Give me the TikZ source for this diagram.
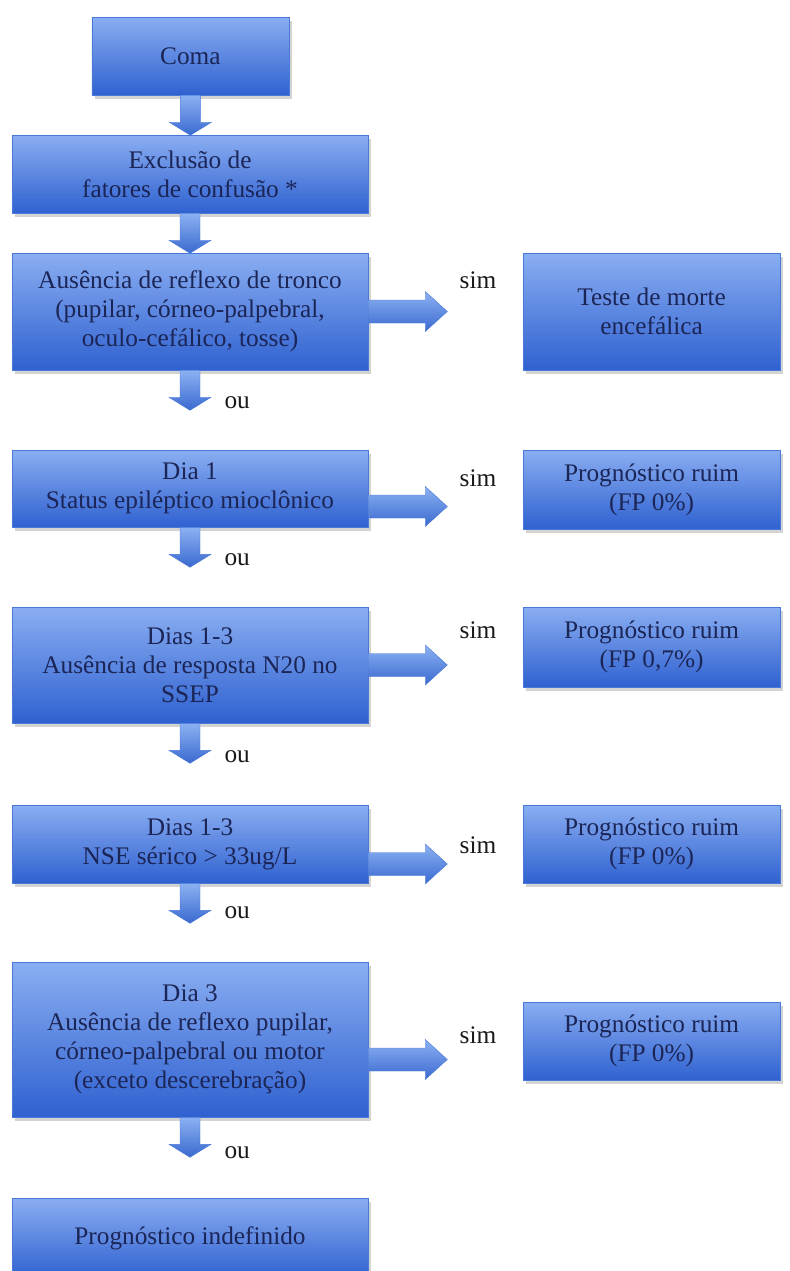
\documentclass[tikz,border=0pt]{standalone}
\usepackage{fontspec}
\setmainfont{Liberation Serif}
\newfontfamily\timesfont{Liberation Serif}
\usepackage{tikz}
\usetikzlibrary{calc,shadows}
\definecolor{boxtop}{HTML}{8AAEF2}
\definecolor{boxbot}{HTML}{2F61D0}
\definecolor{boxline}{HTML}{4A78D8}
\definecolor{navy}{HTML}{1B2556}
\definecolor{arrtop}{HTML}{8CB1F2}
\definecolor{arrbot}{HTML}{3A6AD0}

% block arrow pointing down, from a node anchor
\newcommand{\ouarrow}[1]{%
  \shade[top color=arrtop, bottom color=arrbot, draw=boxline, line width=0.3pt, shift={(#1)}]
    (-0.25,0) -- (-0.25,-0.675) -- (-0.525,-0.675) -- (0,-1) -- (0.525,-0.675) -- (0.25,-0.675) -- (0.25,0) -- cycle;}
% block arrow pointing right, from a node anchor shifted by #2
\newcommand{\simarrow}[2]{%
  \shade[top color=arrtop, bottom color=arrbot, draw=boxline, line width=0.3pt, shift={($(#1)+(0,#2)$)}]
    (0,0.2875) -- (1.425,0.2875) -- (1.425,0.5) -- (1.975,0) -- (1.425,-0.5) -- (1.425,-0.2875) -- (0,-0.2875) -- cycle;}

\begin{document}
\begin{tikzpicture}[every node/.style={font=\timesfont\fontsize{18}{20.5}\selectfont},
  box/.style={rectangle, top color=boxtop, bottom color=boxbot, draw=boxline, line width=0.4pt,
    text=navy, align=center, minimum width=8.9cm, inner sep=2pt,
    drop shadow={shadow xshift=0.07cm, shadow yshift=-0.09cm, opacity=0.35}},
  rbox/.style={box, minimum width=6.425cm},
  lbl/.style={text=black!90, inner sep=0pt}]
\useasboundingbox (0,0) rectangle (19.75,-31.775);
% left column
\node[box, minimum width=4.925cm, minimum height=1.95cm] (coma) at (4.76,-1.4) {Coma};
\node[box, minimum height=1.95cm] (excl) at (4.75,-4.35) {Exclusão de\\fatores de confusão *};
\node[box, minimum height=2.925cm] (tronco) at (4.75,-7.7875) {Ausência de reflexo de tronco\\(pupilar, córneo-palpebral,\\oculo-cefálico, tosse)};
\node[box, minimum height=1.925cm] (dia1) at (4.75,-12.2125) {Dia 1\\Status epiléptico mioclônico};
\node[box, minimum height=2.9cm] (ssep) at (4.75,-16.625) {Dias 1-3\\Ausência de resposta N20 no\\SSEP};
\node[box, minimum height=1.95cm] (nse) at (4.75,-21.1) {Dias 1-3\\NSE sérico > 33ug/L};
\node[box, minimum height=3.875cm] (dia3) at (4.75,-25.9875) {Dia 3\\Ausência de reflexo pupilar,\\córneo-palpebral ou motor\\(exceto descerebração)};
\node[box, minimum height=2.0cm] (indef) at (4.75,-30.95) {Prognóstico indefinido};
% right column
\node[rbox, minimum height=2.925cm] (morte) at (16.29,-7.7875) {Teste de morte\\encefálica};
\node[rbox, minimum height=1.975cm] (ruim1) at (16.29,-12.2375) {Prognóstico ruim\\(FP 0\%)};
\node[rbox, minimum height=2.0cm] (ruim2) at (16.29,-16.175) {Prognóstico ruim\\(FP 0,7\%)};
\node[rbox, minimum height=1.95cm] (ruim3) at (16.29,-21.1) {Prognóstico ruim\\(FP 0\%)};
\node[rbox, minimum height=1.95cm] (ruim4) at (16.29,-26.025) {Prognóstico ruim\\(FP 0\%)};
% down arrows
\ouarrow{coma.south}
\ouarrow{excl.south}
\ouarrow{tronco.south}
\ouarrow{dia1.south}
\ouarrow{ssep.south}
\ouarrow{nse.south}
\ouarrow{dia3.south}
\node[lbl] (ou1) at (5.93,-10.075) {ou};
\node[lbl] (ou2) at (5.93,-14.0) {ou};
\node[lbl] (ou3) at (5.93,-18.925) {ou};
\node[lbl] (ou4) at (5.93,-22.825) {ou};
\node[lbl] (ou5) at (5.93,-28.825) {ou};
% right arrows
\simarrow{tronco.east}{0}
\simarrow{dia1.east}{-0.45}
\simarrow{ssep.east}{0}
\simarrow{nse.east}{-0.5}
\simarrow{dia3.east}{-0.5}
\node[lbl] (sim1) at (11.95,-7.0) {sim};
\node[lbl] (sim2) at (11.95,-11.95) {sim};
\node[lbl] (sim3) at (11.95,-15.75) {sim};
\node[lbl] (sim4) at (11.95,-21.125) {sim};
\node[lbl] (sim5) at (11.95,-25.875) {sim};
\end{tikzpicture}
\end{document}
